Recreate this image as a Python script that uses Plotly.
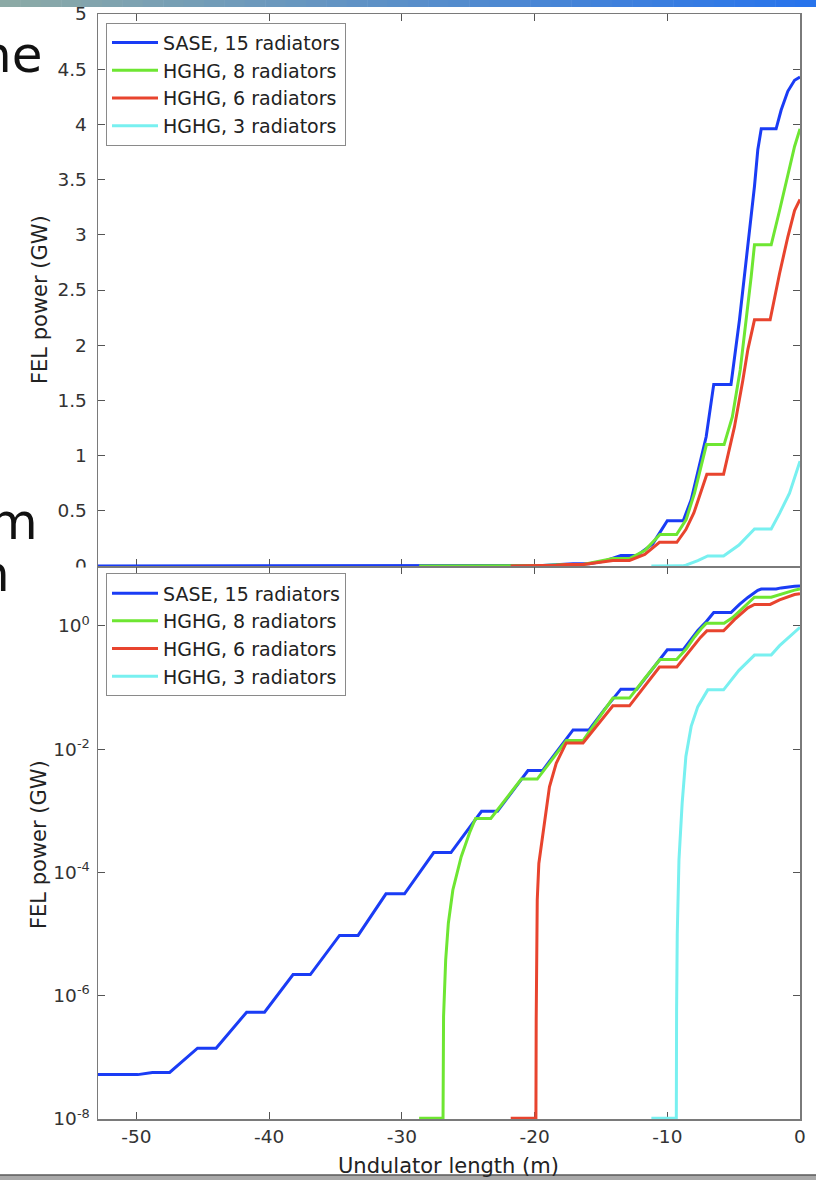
import plotly.graph_objects as go

# ---------------- data ----------------
series_names = ["SASE, 15 radiators", "HGHG, 8 radiators", "HGHG, 6 radiators", "HGHG, 3 radiators"]

x_sase = [-52.9, -49.9, -48.8, -47.5, -45.4, -44.0, -41.7, -40.35, -38.2, -36.9, -34.7, -33.3,
          -31.2, -29.8, -27.6, -26.3, -24.0, -22.8, -20.5, -19.4, -17.1, -15.9, -14.7, -13.5,
          -12.3, -11.1, -10.0, -8.8, -8.2, -7.7, -7.07, -6.5, -5.2, -4.56, -3.93, -3.43, -3.18,
          -2.92, -1.8, -1.42, -0.92, -0.41, 0.0]
p_sase = [5.25e-8, 5.25e-8, 5.7e-8, 5.7e-8, 1.41e-7, 1.41e-7, 5.4e-7, 5.4e-7, 2.2e-6, 2.2e-6,
          9.5e-6, 9.5e-6, 4.5e-5, 4.5e-5, 2.1e-4, 2.1e-4, 9.8e-4, 9.8e-4, 4.5e-3, 4.5e-3,
          2.05e-2, 2.05e-2, 0.045, 0.094, 0.094, 0.2, 0.41, 0.41, 0.60, 0.84, 1.17, 1.645, 1.645,
          2.23, 2.89, 3.44, 3.77, 3.96, 3.96, 4.13, 4.30, 4.40, 4.43]

x_hghg8 = [-28.7, -26.9, -26.86, -26.7, -26.5, -26.16, -25.53, -24.9, -24.45, -23.3, -21.0,
           -19.8, -17.6, -16.35, -14.1, -12.85, -11.7, -10.55, -9.3, -8.58, -7.95, -7.45, -7.05,
           -5.72, -5.1, -4.5, -4.05, -3.68, -3.43, -2.17, -1.54, -0.92, -0.41, 0.0]
p_hghg8 = [1.03e-8, 1.03e-8, 4.6e-7, 3.8e-6, 1.5e-5, 5.2e-5, 1.8e-4, 4.4e-4, 7.5e-4, 7.5e-4,
           3.27e-3, 3.27e-3, 1.38e-2, 1.38e-2, 0.0673, 0.0673, 0.14, 0.285, 0.285, 0.42, 0.66,
           0.90, 1.10, 1.10, 1.35, 1.78, 2.23, 2.62, 2.91, 2.91, 3.22, 3.53, 3.80, 3.96]

x_hghg6 = [-21.8, -19.9, -19.88, -19.86, -19.8, -19.68, -19.25, -18.88, -18.37, -17.62, -16.35,
           -14.1, -12.85, -11.7, -10.59, -9.28, -8.6, -8.0, -7.5, -7.02, -5.76, -4.94, -4.31,
           -3.93, -3.43, -2.25, -1.54, -0.92, -0.41, 0.0]
p_hghg6 = [1.03e-8, 1.03e-8, 4.1e-7, 3.8e-6, 3.6e-5, 1.4e-4, 7.1e-4, 2.45e-3, 5.9e-3, 1.26e-2,
           1.26e-2, 0.0504, 0.0504, 0.105, 0.215, 0.215, 0.33, 0.48, 0.65, 0.83, 0.83, 1.26,
           1.68, 1.96, 2.23, 2.23, 2.65, 2.98, 3.22, 3.32]

x_hghg3 = [-11.2, -9.32, -9.3, -9.25, -9.12, -8.88, -8.6, -8.2, -7.7, -6.95, -5.76, -4.6, -3.43,
           -2.17, -1.54, -0.79, 0.0]
p_hghg3 = [1.03e-8, 1.03e-8, 5.9e-7, 1.0e-5, 1.6e-4, 1.33e-3, 7.6e-3, 0.0234, 0.049, 0.0916,
           0.0916, 0.19, 0.336, 0.336, 0.477, 0.66, 0.95]

x_tick_vals = [-50, -40, -30, -20, -10, 0]
x_tick_text = ["-50", "-40", "-30", "-20", "-10", "0"]
lin_tick_vals = [0, 0.5, 1, 1.5, 2, 2.5, 3, 3.5, 4, 4.5, 5]
lin_tick_text = ["0", "0.5", "1", "1.5", "2", "2.5", "3", "3.5", "4", "4.5", "5"]
log_tick_vals = [1e-8, 1e-6, 1e-4, 1e-2, 1]
log_tick_text = ["10<sup>-8</sup>", "10<sup>-6</sup>", "10<sup>-4</sup>", "10<sup>-2</sup>", "10<sup>0</sup>"]

x_label = "Undulator length (m)"
y_label = "FEL power (GW)"

# ---------------- styling ----------------
colors = ["#1a3cf5", "#6ee632", "#e8442e", "#78f0f0"]
FONT = "DejaVu Sans"
W, H = 816, 1180
L, R, T, B = 98, 16, 14, 61
PW = W - L - R
PH = H - T - B


def px_x(px):
    return (px - L) / PW


def px_y(py):
    return (H - B - py) / PH


fig = go.Figure()
all_x = [x_sase, x_hghg8, x_hghg6, x_hghg3]
all_p = [p_sase, p_hghg8, p_hghg6, p_hghg3]
for name, xs, ps, col in zip(series_names, all_x, all_p, colors):
    fig.add_trace(go.Scatter(x=xs, y=ps, mode="lines", name=name,
                             line=dict(color=col, width=3), hoverinfo="skip",
                             xaxis="x", yaxis="y", legend="legend"))
for name, xs, ps, col in zip(series_names, all_x, all_p, colors):
    fig.add_trace(go.Scatter(x=xs, y=ps, mode="lines", name=name,
                             line=dict(color=col, width=3), hoverinfo="skip",
                             xaxis="x2", yaxis="y2", legend="legend2"))

axis_common = dict(showline=True, linecolor="#7a7a7a", linewidth=1.5, mirror="ticks",
                   ticks="inside", ticklen=7, tickwidth=1, tickcolor="#555",
                   showgrid=False, zeroline=False, layer="below traces",
                   tickfont=dict(family=FONT, size=18.5, color="#333"))

top_dom = [px_y(566), 1.0]
bot_dom = [0.0, px_y(567)]

legend_common = dict(xanchor="left", yanchor="top", bgcolor="white",
                     bordercolor="#8a8a8a", borderwidth=1, itemwidth=46,
                     font=dict(family=FONT, size=19, color="#222"), tracegroupgap=0)

fig.update_layout(
    width=W, height=H,
    margin=dict(l=L, r=R, t=T, b=B, pad=0),
    paper_bgcolor="white", plot_bgcolor="white",
    template="none",
    hovermode=False,
    xaxis=dict(axis_common, domain=[0, 1], range=[-52.9, 0], anchor="y",
               tickvals=x_tick_vals, ticktext=x_tick_text, showticklabels=False),
    yaxis=dict(axis_common, domain=top_dom, range=[0, 5], anchor="x",
               tickvals=lin_tick_vals, ticktext=lin_tick_text, ticklabelstandoff=6),
    xaxis2=dict(axis_common, domain=[0, 1], range=[-52.9, 0], anchor="y2",
                tickvals=x_tick_vals, ticktext=x_tick_text),
    yaxis2=dict(axis_common, domain=bot_dom, type="log", range=[-8, 0.955], anchor="x2",
                tickvals=log_tick_vals, ticktext=log_tick_text, ticklabelstandoff=3),
    legend=dict(legend_common, x=px_x(106), y=px_y(22.7)),
    legend2=dict(legend_common, x=px_x(106), y=px_y(573.3)),
    showlegend=True,
)

annotations = [
    dict(text=y_label, x=px_x(40), y=px_y(300), textangle=-90,
         font=dict(family=FONT, size=21, color="#222")),
    dict(text=y_label, x=px_x(39), y=px_y(845), textangle=-90,
         font=dict(family=FONT, size=21, color="#222")),
    dict(text=x_label, x=px_x(448), y=px_y(1166),
         font=dict(family=FONT, size=21, color="#222")),
    # cut-off slide text at the left edge
    dict(text="ne", x=px_x(44), y=px_y(55), xanchor="right",
         font=dict(family=FONT, size=50, color="#111")),
    dict(text="m", x=px_x(40), y=px_y(522), xanchor="right",
         font=dict(family=FONT, size=50, color="#111")),
    dict(text="n", x=px_x(12), y=px_y(574), xanchor="right",
         font=dict(family=FONT, size=50, color="#111")),
]
for a in annotations:
    a.setdefault("xref", "paper")
    a.setdefault("yref", "paper")
    a.setdefault("showarrow", False)
    a.setdefault("xanchor", "center")
    a.setdefault("yanchor", "middle")
fig.update_layout(annotations=annotations)

shapes = []
# cover hiding the lower part of the top panel's "0" label (bottom axes overlap)
shapes.append(dict(type="rect", xref="paper", yref="paper", layer="above",
                   x0=px_x(50), x1=px_x(96.5), y0=px_y(586), y1=px_y(567.6),
                   fillcolor="white", line=dict(width=0)))
# slide title bar (gradient) at the very top
n_seg = 40
c0 = (140, 170, 166)
c1 = (40, 116, 236)
for i in range(n_seg):
    t = i / (n_seg - 1)
    c = tuple(int(round(c0[k] + (c1[k] - c0[k]) * t)) for k in range(3))
    shapes.append(dict(type="rect", xref="paper", yref="paper", layer="above",
                       x0=px_x(i * W / n_seg), x1=px_x((i + 1) * W / n_seg + 0.5),
                       y0=px_y(7), y1=px_y(0),
                       fillcolor="rgb(%d,%d,%d)" % c, line=dict(width=0)))
# slide footer bar
shapes.append(dict(type="rect", xref="paper", yref="paper", layer="below",
                   x0=px_x(0), x1=px_x(W), y0=px_y(1180), y1=px_y(1175),
                   fillcolor="#a9a9a9", line=dict(width=0)))
shapes.append(dict(type="line", xref="paper", yref="paper", layer="below",
                   x0=px_x(0), x1=px_x(W), y0=px_y(1175), y1=px_y(1175),
                   line=dict(color="#5a5a5a", width=1.5)))
fig.update_layout(shapes=shapes)

fig.write_html(
    "out.html",
    config={"displayModeBar": False, "staticPlot": True},
    post_script=("document.body.style.margin='0px';"
                 "document.body.style.padding='0px';"
                 "document.documentElement.style.overflow='hidden';"),
)
